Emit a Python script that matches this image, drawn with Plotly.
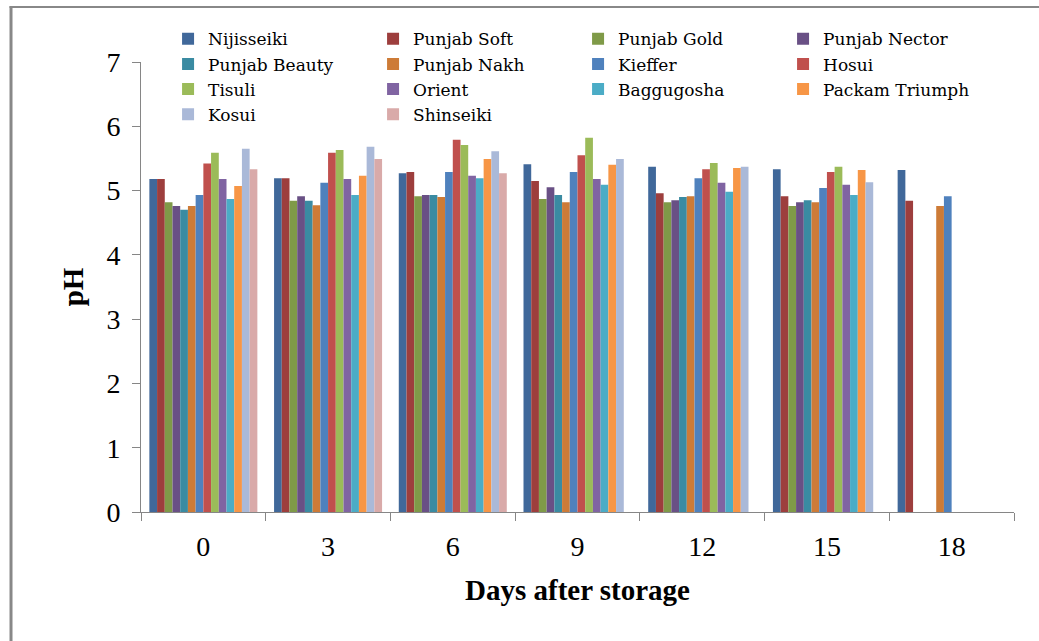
import plotly.graph_objects as go

days = ["0", "3", "6", "9", "12", "15", "18"]

nijisseiki     = [5.18, 5.19, 5.27, 5.41, 5.37, 5.33, 5.32]
punjab_soft    = [5.18, 5.19, 5.29, 5.15, 4.96, 4.91, 4.84]
punjab_gold    = [4.82, 4.84, 4.91, 4.87, 4.82, 4.76, None]
punjab_nector  = [4.76, 4.91, 4.93, 5.05, 4.85, 4.82, None]
punjab_beauty  = [4.70, 4.84, 4.93, 4.93, 4.90, 4.85, None]
punjab_nakh    = [4.76, 4.77, 4.90, 4.82, 4.91, 4.82, 4.76]
kieffer        = [4.93, 5.12, 5.29, 5.29, 5.19, 5.04, 4.91]
hosui          = [5.42, 5.59, 5.79, 5.55, 5.33, 5.29, None]
tisuli         = [5.59, 5.63, 5.71, 5.82, 5.43, 5.37, None]
orient         = [5.18, 5.18, 5.23, 5.18, 5.12, 5.09, None]
baggugosha     = [4.87, 4.93, 5.19, 5.09, 4.98, 4.93, None]
packam_triumph = [5.07, 5.23, 5.49, 5.40, 5.35, 5.32, None]
kosui          = [5.65, 5.68, 5.61, 5.49, 5.37, 5.13, None]
shinseiki      = [5.33, 5.49, 5.27, None, None, None, None]

series_names = ["Nijisseiki", "Punjab Soft", "Punjab Gold", "Punjab Nector",
                "Punjab Beauty", "Punjab Nakh", "Kieffer", "Hosui",
                "Tisuli", "Orient", "Baggugosha", "Packam Triumph",
                "Kosui", "Shinseiki"]
series_values = [nijisseiki, punjab_soft, punjab_gold, punjab_nector,
                 punjab_beauty, punjab_nakh, kieffer, hosui,
                 tisuli, orient, baggugosha, packam_triumph,
                 kosui, shinseiki]
colors = ["#40689A", "#9D3E3D", "#7F9A48", "#695085", "#3A8BA2", "#CD7B37",
          "#4F81BD", "#C0504D", "#9BBB59", "#8064A2", "#4BACC6", "#F79646",
          "#AAB9D8", "#D9AAA9"]

y_ticks = [0, 1, 2, 3, 4, 5, 6, 7]

fig = go.Figure()
for name, vals, col in zip(series_names, series_values, colors):
    fig.add_trace(go.Bar(x=days, y=vals, name=name,
                         marker=dict(color=col, line=dict(width=0))))

axis_col = "#868686"
serif = "Liberation Serif, Times New Roman, serif"
legend_serif = "DejaVu Serif, Liberation Serif, serif"

fig.update_layout(
    width=1039, height=641,
    margin=dict(l=141, r=25, t=62, b=129, autoexpand=False),
    paper_bgcolor="white", plot_bgcolor="white",
    barmode="group", bargap=0.134, bargroupgap=0,
    font=dict(family=serif, color="black"),
    showlegend=True,
    legend=dict(orientation="h", x=0.031, xanchor="left", y=1.0905, yanchor="top",
                entrywidth=160, entrywidthmode="pixels",
                font=dict(family=legend_serif, size=17, color="black"),
                bgcolor="rgba(0,0,0,0)", traceorder="normal",
                itemclick=False, itemdoubleclick=False),
    xaxis=dict(type="category", tickson="boundaries", ticks="outside", ticklen=8,
               tickcolor=axis_col, showline=True, linecolor=axis_col, linewidth=1,
               showgrid=False, zeroline=False,
               tickfont=dict(family=serif, size=28, color="black"),
               ticklabelstandoff=9,
               title=dict(text="<b>Days after storage</b>", standoff=19,
                          font=dict(family=serif, size=29, color="black"))),
    yaxis=dict(range=[0, 7], tickvals=y_ticks, ticks="outside", ticklen=8,
               tickcolor=axis_col, showline=True, linecolor=axis_col, linewidth=1,
               showgrid=False, zeroline=False,
               tickfont=dict(family=serif, size=28, color="black"),
               ticklabelstandoff=6,
               title=dict(text="<b>pH</b>", standoff=14,
                          font=dict(family=serif, size=29, color="black"))),
)

# outer frame (left and top border lines)
fig.add_shape(type="line", xref="paper", yref="paper",
              x0=-0.1489, x1=-0.1489, y0=1.124, y1=-0.31,
              line=dict(color="#888888", width=3))
fig.add_shape(type="line", xref="paper", yref="paper",
              x0=-0.1506, x1=1.04, y0=1.1222, y1=1.1222,
              line=dict(color="#888888", width=2))

fig.write_html("out.html")
